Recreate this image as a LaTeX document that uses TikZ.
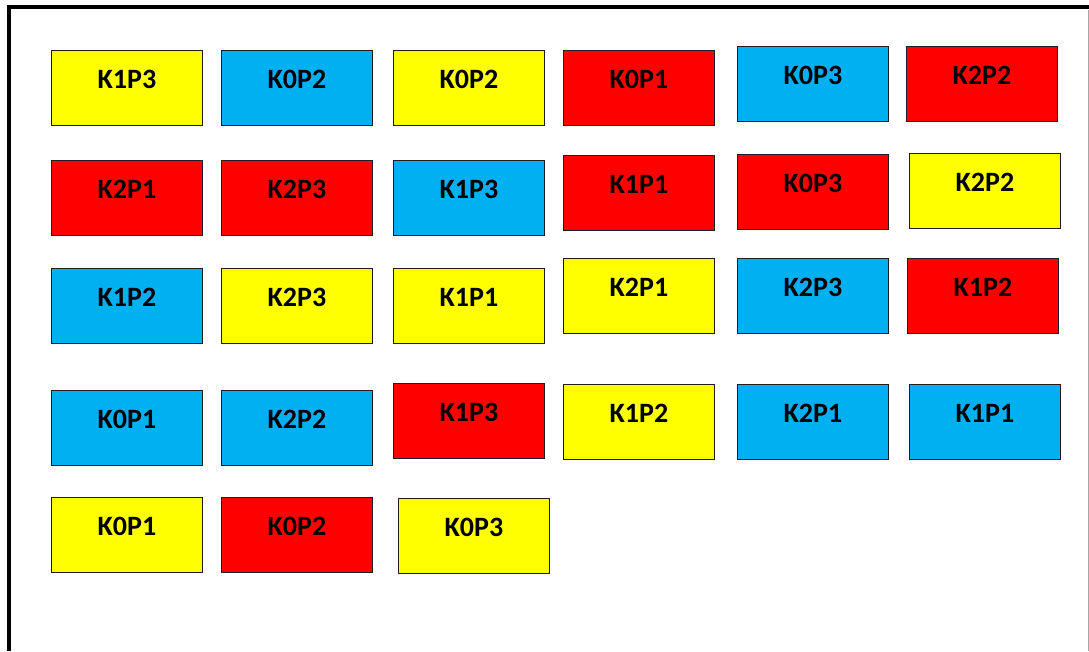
\documentclass[tikz,border=0pt]{standalone}
\usepackage{fontspec}
\setmainfont{Carlito}
\usetikzlibrary{positioning}
\definecolor{CardYellow}{HTML}{FFFF00}
\definecolor{CardBlue}{HTML}{00B0F0}
\definecolor{CardRed}{HTML}{FF0000}
\definecolor{CardEdge}{HTML}{1E1E1E}
\definecolor{FrameShade}{HTML}{A6A6A6}
\tikzset{
  card/.style={draw=CardEdge, line width=0.9pt, anchor=north west, inner sep=0pt,
    minimum width=151pt, minimum height=75pt, text height=20pt, text depth=18pt,
    font=\bfseries\fontsize{28}{30}\selectfont},
  yellowcard/.style={card, fill=CardYellow},
  bluecard/.style={card, fill=CardBlue},
  redcard/.style={card, fill=CardRed},
  frame/.style={draw=black, line width=4.5pt},
}
\begin{document}
\begin{tikzpicture}[x=1pt, y=-1pt]
  \useasboundingbox (0,0) rectangle (1089,651);

  % Outer frame, cut off on the right and at the bottom.
  \coordinate (frametl) at (9.2,7);
  \draw[frame] (9.2,651) -- (frametl) -- (1089,7);
  \draw[draw=FrameShade, line width=1pt] (1088,9.5) -- (1088,651);

  % First row.
  \node[yellowcard] (aa) at (51,50) {K1P3};
  \node[bluecard] (ab) at (221,50) {K0P2};
  \node[yellowcard] (ac) at (393,50) {K0P2};
  \node[redcard] (ad) at (563,50) {K0P1};
  \node[bluecard] (ae) at (737,46) {K0P3};
  \node[redcard] (af) at (906,46) {K2P2};

  % Second row.
  \node[redcard] (ba) at (51,160) {K2P1};
  \node[redcard] (bb) at (221,160) {K2P3};
  \node[bluecard] (bc) at (393,160) {K1P3};
  \node[redcard] (bd) at (563,155) {K1P1};
  \node[redcard] (be) at (737,154) {K0P3};
  \node[yellowcard] (bf) at (909,153) {K2P2};

  % Third row.
  \node[bluecard] (ca) at (51,268) {K1P2};
  \node[yellowcard] (cb) at (221,268) {K2P3};
  \node[yellowcard] (cc) at (393,268) {K1P1};
  \node[yellowcard] (cd) at (563,258) {K2P1};
  \node[bluecard] (ce) at (737,258) {K2P3};
  \node[redcard] (cf) at (907,258) {K1P2};

  % Fourth row.
  \node[bluecard] (da) at (51,390) {K0P1};
  \node[bluecard] (db) at (221,390) {K2P2};
  \node[redcard] (dc) at (393,383) {K1P3};
  \node[yellowcard] (dd) at (563,383.5) {K1P2};
  \node[bluecard] (de) at (737,383.5) {K2P1};
  \node[bluecard] (df) at (909,383.5) {K1P1};

  % Fifth row.
  \node[yellowcard] (ea) at (51,497) {K0P1};
  \node[redcard] (eb) at (221,497) {K0P2};
  \node[yellowcard] (ec) at (398,497.5) {K0P3};
\end{tikzpicture}
\end{document}
